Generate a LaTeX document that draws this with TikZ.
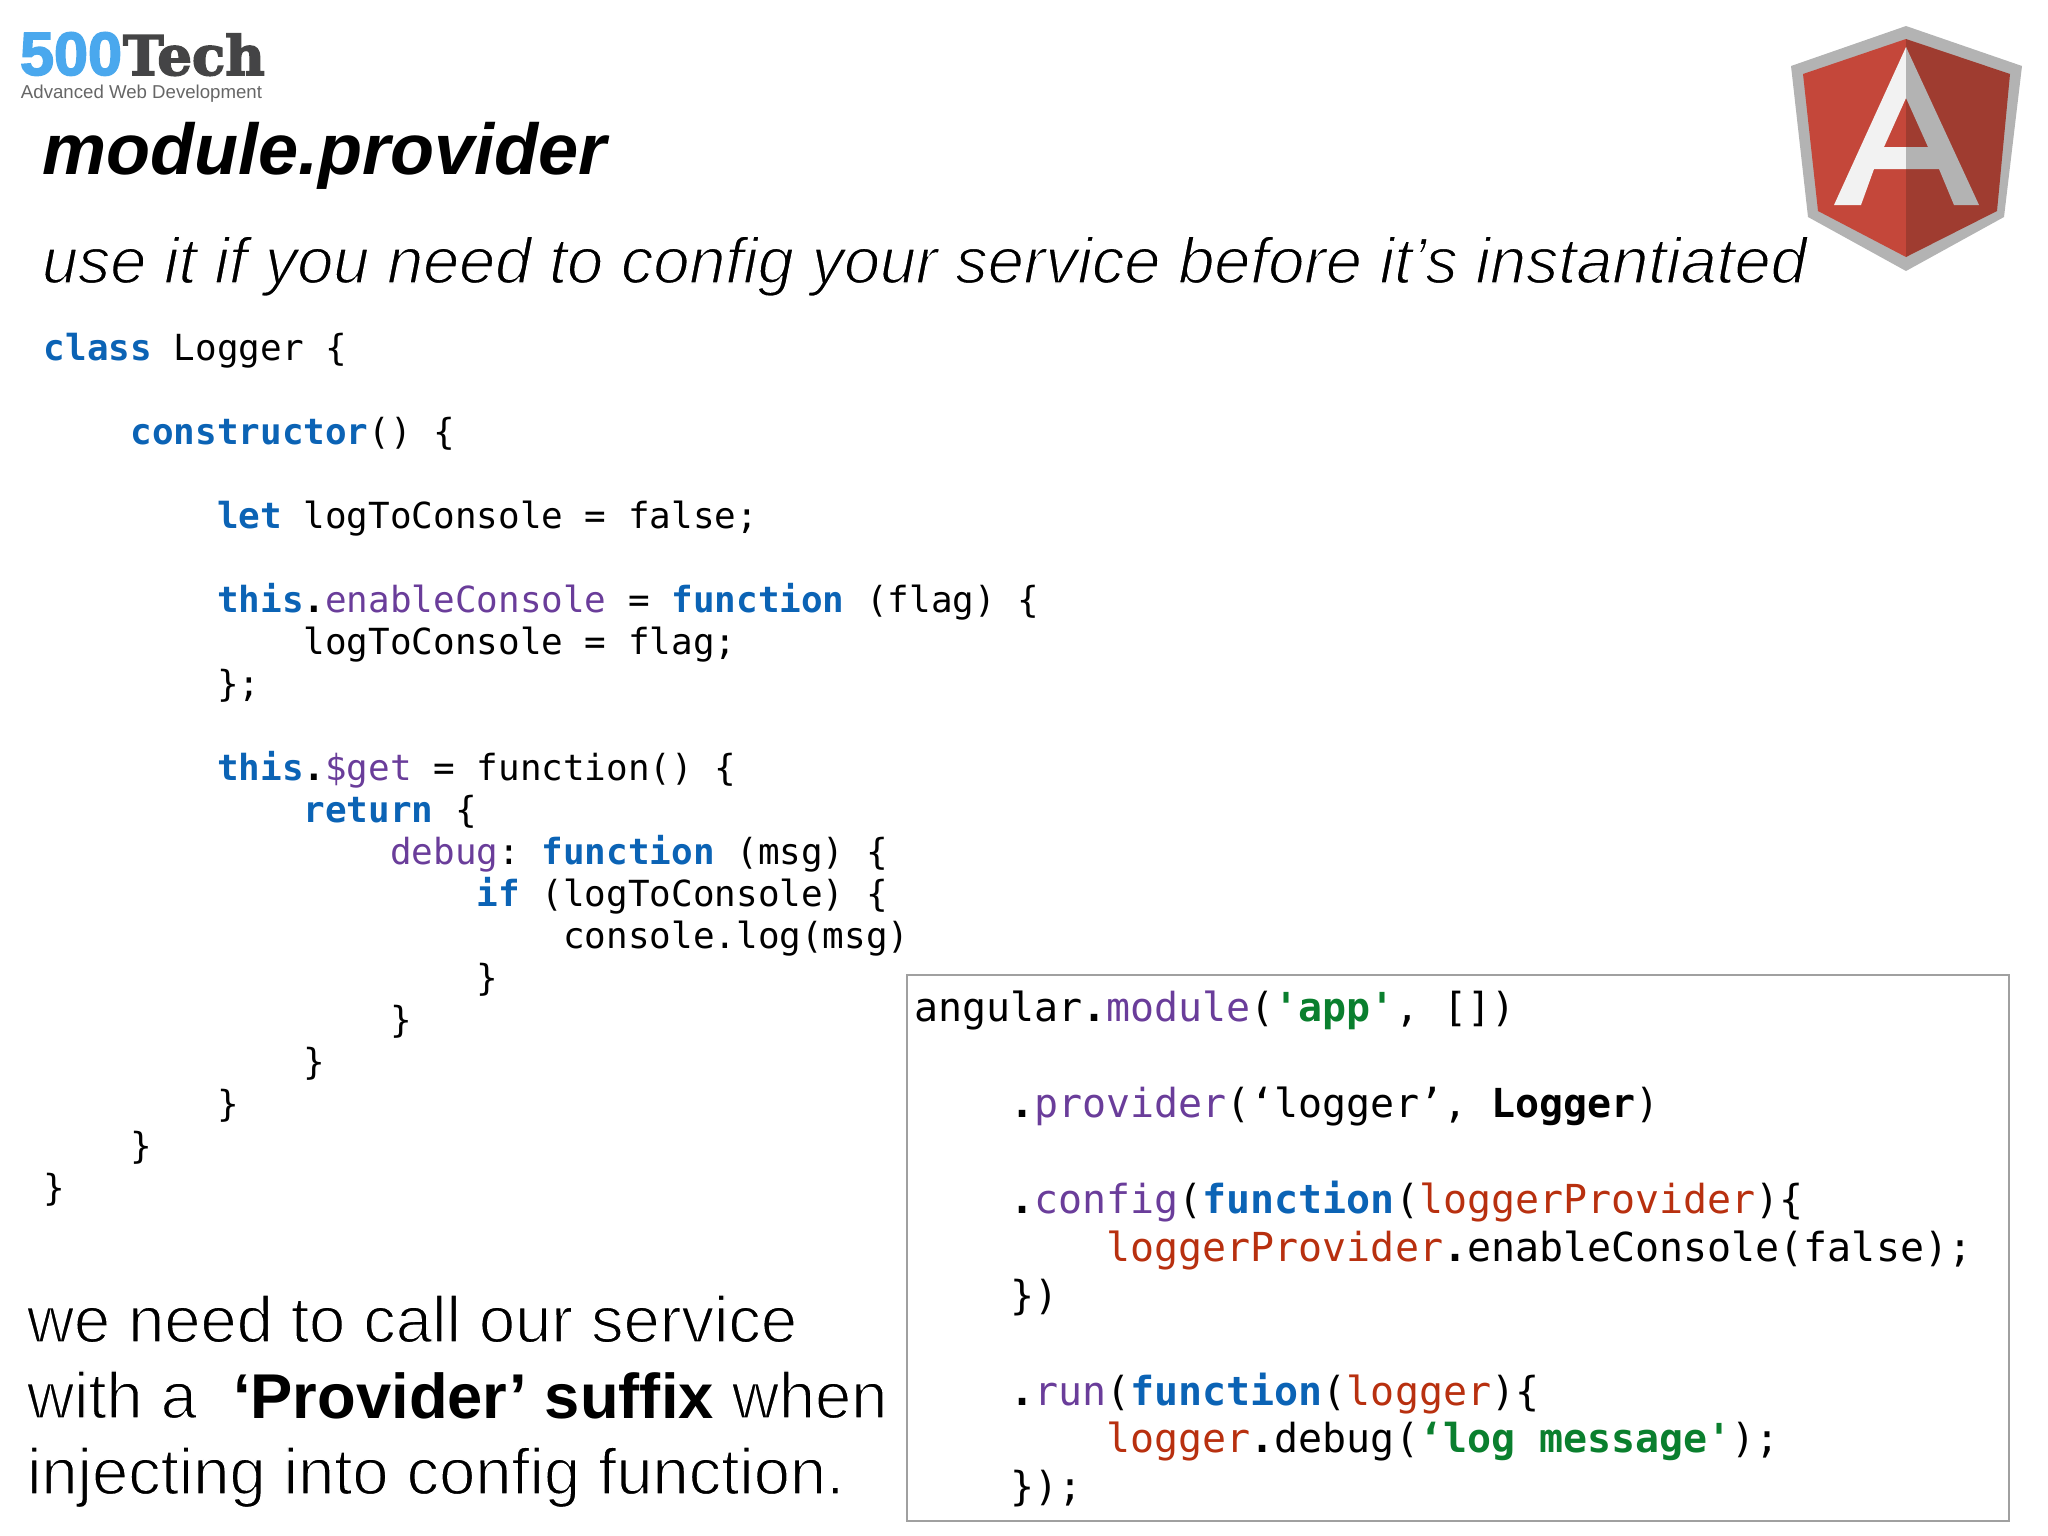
\documentclass[tikz,border=0pt]{standalone}
\usepackage{fontspec}
\setmainfont{Liberation Sans}
\newfontfamily\codefont{DejaVu Sans Mono}
\newfontfamily\slabfont{DejaVu Serif}
\usetikzlibrary{positioning}
\definecolor{kwblue}{HTML}{0B63B5}
\definecolor{idpurple}{HTML}{6A3D9A}
\definecolor{strgreen}{HTML}{0A7F2E}
\definecolor{argred}{HTML}{B8300F}
\definecolor{framegray}{HTML}{A0A0A0}
\definecolor{logoblue}{HTML}{4AA8EE}
\definecolor{logodark}{HTML}{444446}
\definecolor{shieldgray}{HTML}{B3B3B3}
\definecolor{shieldleft}{HTML}{C4473A}
\definecolor{shieldright}{HTML}{9F3C30}
\definecolor{letterwhite}{HTML}{F2F2F2}
\newcommand{\kw}[1]{\textcolor{kwblue}{\bfseries #1}}
\newcommand{\idn}[1]{\textcolor{idpurple}{#1}}
\newcommand{\strg}[1]{\textcolor{strgreen}{\bfseries #1}}
\newcommand{\argn}[1]{\textcolor{argred}{#1}}
\newcommand{\thinon}{\special{pdf:code q 2 Tr 0.4 w 1 1 1 RG}}
\newcommand{\thinoff}{\special{pdf:code Q}}
\newcommand{\thickon}[1]{\special{pdf:code q 2 Tr 0.45 w #1 RG}}
\newcommand{\boldpart}[1]{\special{pdf:code 0 Tr}{\fontsize{18pt}{21.6pt}\selectfont\bfseries #1}\special{pdf:code 2 Tr}}
\tikzstyle{plain} = [inner sep=0pt, outer sep=0pt, anchor=base west]
\tikzstyle{heading} = [plain, font=\fontsize{20.5pt}{22pt}\selectfont\bfseries\itshape]
\tikzstyle{subheading} = [plain, font=\fontsize{18.4pt}{22pt}\selectfont\itshape]
\tikzstyle{remark} = [inner sep=0pt, outer sep=0pt, anchor=north west, align=left, font=\fontsize{18.5pt}{21.6pt}\selectfont]
\tikzstyle{leftcode} = [inner sep=0pt, outer sep=0pt, anchor=north west, align=left, font=\fontsize{10.22pt}{11.94pt}\selectfont\codefont\frenchspacing]
\tikzstyle{rightcode} = [inner sep=0pt, outer sep=0pt, anchor=north west, align=left, font=\fontsize{11.36pt}{13.63pt}\selectfont\codefont\frenchspacing]
\tikzstyle{frame} = [draw=framegray, line width=0.6pt, inner sep=0pt, outer sep=0pt, anchor=north west, minimum width=11.01cm, minimum height=5.46cm]

\begin{document}
\begin{tikzpicture}[x=0.01cm, y=-0.01cm]
	\useasboundingbox (0,0) rectangle (2048,1536);

	% logo top left
	\node (five) [plain, text=logoblue, font=\fontsize{17.4pt}{20pt}\selectfont\bfseries] at (20,75) {\thickon{0.29 0.66 0.93}500\thinoff};
	\node (tech) [plain, text=logodark, font=\fontsize{15.5pt}{20pt}\selectfont\slabfont\bfseries] at (123,75) {\thickon{0.27 0.27 0.27}Tech\thinoff};
	\node (tagline) [plain, text=black!60, font=\fontsize{5.3pt}{7pt}\selectfont] at (21,98) {Advanced Web Development};

	\node (title) [heading] at (42,174) {module.provider};
	\node (subtitle) [subheading] at (42,283) {\thinon use it if you need to config your service before it’s instantiated\thinoff};

	% shield
	\fill [shieldgray] (1906,26) -- (2022,66) -- (2004,217) -- (1906,271) -- (1808,217) -- (1791,66) -- cycle;
	\fill [shieldleft] (1906,39) -- (1803,74) -- (1818,211) -- (1906,257) -- cycle;
	\fill [shieldright] (1906,39) -- (2010,74) -- (1997,211) -- (1906,257) -- cycle;
	\fill [letterwhite] (1906,47) -- (1834,205) -- (1861,205) -- (1874,169) -- (1906,169) -- (1906,147) -- (1884,147) -- (1906,98) -- cycle;
	\fill [shieldgray] (1906,47) -- (1979,205) -- (1954,205) -- (1939,169) -- (1906,169) -- (1906,147) -- (1928,147) -- (1906,98) -- cycle;

	\node (logger) [leftcode] at (44,333) {\kw{class} Logger \{\\
~\\
~~~~\kw{constructor}() \{\\
~\\
~~~~~~~~\kw{let} logToConsole = false;\\
~\\
~~~~~~~~\kw{this}\textbf{.}\idn{enableConsole} = \kw{function} (flag) \{\\
~~~~~~~~~~~~logToConsole = flag;\\
~~~~~~~~\};\\
~\\
~~~~~~~~\kw{this}\textbf{.}\idn{\$get} = function() \{\\
~~~~~~~~~~~~\kw{return} \{\\
~~~~~~~~~~~~~~~~\idn{debug}: \kw{function} (msg) \{\\
~~~~~~~~~~~~~~~~~~~~\kw{if} (logToConsole) \{\\
~~~~~~~~~~~~~~~~~~~~~~~~console.log(msg)\\
~~~~~~~~~~~~~~~~~~~~\}\\
~~~~~~~~~~~~~~~~\}\\
~~~~~~~~~~~~\}\\
~~~~~~~~\}\\
~~~~\}\\
\}};

	\node (note) [remark] at (27,1295) {\thinon we need to call our service\\
with a ~\boldpart{‘Provider’ suffix} when\\
injecting into config function.\thinoff};

	\node (box) [frame] at (907,975) {};
	\node (usage) [rightcode] at (914,991) {angular\textbf{.}\idn{module}(\strg{'app'}, [])\\
~\\
~~~~\textbf{.}\idn{provider}(‘logger’, \textbf{Logger})\\
~\\
~~~~\textbf{.}\idn{config}(\kw{function}(\argn{loggerProvider})\{\\
~~~~~~~~\argn{loggerProvider}\textbf{.}enableConsole(false);\\
~~~~\})\\
~\\
~~~~\textbf{.}\idn{run}(\kw{function}(\argn{logger})\{\\
~~~~~~~~\argn{logger}\textbf{.}debug(\strg{‘log message'});\\
~~~~\});};
\end{tikzpicture}
\end{document}
